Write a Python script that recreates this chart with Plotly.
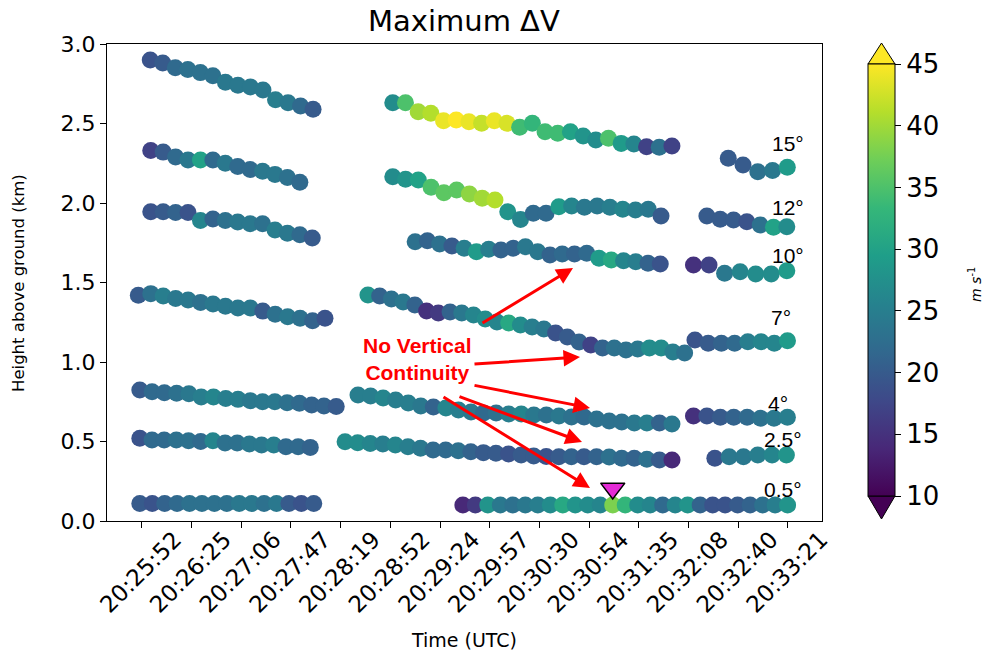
import plotly.graph_objects as go

# ---------------- data ----------------
tick_labels = ["20:25:52", "20:26:25", "20:27:06", "20:27:47", "20:28:19", "20:28:52",
               "20:29:24", "20:29:57", "20:30:30", "20:30:54", "20:31:35", "20:32:08",
               "20:32:40", "20:33:21"]

# 0.5 deg
h_05a = [0.11, 0.11, 0.11, 0.11, 0.11, 0.11, 0.11, 0.11, 0.11, 0.11, 0.11, 0.11, 0.11, 0.11, 0.11]
v_05a = [20, 19, 21, 22, 23, 23, 23, 23, 24, 24, 23, 24, 20, 19, 20]
h_05b = [0.10, 0.10, 0.10, 0.10, 0.10, 0.10, 0.10, 0.10, 0.10, 0.10, 0.10, 0.10, 0.10, 0.10,
         0.10, 0.10, 0.10, 0.10, 0.10, 0.10, 0.10, 0.10, 0.10, 0.10, 0.10, 0.10, 0.10]
v_05b = [14, 16, 28, 24, 23, 24, 25, 27, 31, 28, 27, 26, 38, 33, 27, 26, 22, 26, 28, 21,
         19, 19, 20, 21, 23, 25, 28]
# 2.5 deg
h_25a = [0.52, 0.51, 0.51, 0.51, 0.505, 0.50, 0.505, 0.49, 0.49, 0.485, 0.478, 0.478, 0.467, 0.467, 0.463]
v_25a = [19, 22, 22, 23, 23, 22, 26, 23, 23, 24, 24, 25, 22, 22, 21]
h_25b = [0.499, 0.492, 0.488, 0.484, 0.478, 0.467, 0.457, 0.447, 0.447, 0.442, 0.436, 0.430,
         0.426, 0.421, 0.415, 0.409, 0.406, 0.404, 0.404, 0.404, 0.404, 0.403, 0.394, 0.394,
         0.388, 0.384, 0.384]
v_25b = [27, 27, 26, 25, 26, 25, 24, 22, 22, 23, 21, 20, 20, 19, 20, 20, 19, 20, 21, 20,
         21, 23, 22, 21, 23, 20, 14]
h_25c = [0.394, 0.404, 0.404, 0.415, 0.415, 0.415]
v_25c = [19, 24, 24, 25, 26, 28]
# 4 deg
h_4a = [0.824, 0.813, 0.807, 0.803, 0.80, 0.78, 0.78, 0.77, 0.765, 0.757, 0.75, 0.75, 0.744,
        0.74, 0.73, 0.723, 0.72]
v_4a = [20, 22, 22, 23, 24, 25, 26, 25, 25, 24, 24, 24, 23, 22, 21, 21, 20]
h_4b = [0.792, 0.786, 0.774, 0.761, 0.742, 0.723, 0.717, 0.711, 0.698, 0.686, 0.679, 0.679,
        0.673, 0.673, 0.667, 0.667, 0.660, 0.654, 0.654, 0.642, 0.629, 0.623, 0.616, 0.616,
        0.616, 0.610]
v_4b = [25, 25, 26, 25, 25, 24, 21, 26, 25, 24, 22, 23, 25, 26, 24, 23, 24, 23, 22, 23,
        23, 23, 24, 25, 21, 24]
h_4c = [0.660, 0.660, 0.652, 0.652, 0.652, 0.646, 0.646, 0.652]
v_4c = [15, 19, 20, 21, 22, 23, 24, 25]
# 7 deg
h_7a = [1.42, 1.43, 1.415, 1.40, 1.39, 1.375, 1.365, 1.35, 1.34, 1.34, 1.32, 1.30, 1.285,
        1.275, 1.26, 1.275]
v_7a = [20, 23, 25, 24, 24, 23, 24, 24, 24, 24, 20, 23, 24, 23, 21, 19]
h_7b = [1.421, 1.415, 1.396, 1.377, 1.358, 1.321, 1.308, 1.314, 1.308, 1.296, 1.270, 1.252,
        1.245, 1.233, 1.220, 1.208, 1.182, 1.157, 1.126, 1.107, 1.088, 1.088, 1.075, 1.082,
        1.088, 1.088, 1.063, 1.057]
v_7b = [28, 21, 23, 24, 21, 15, 16, 21, 24, 26, 27, 26, 31, 27, 25, 24, 19, 20, 21, 17,
        21, 23, 23, 24, 27, 27, 25, 23]
h_7c = [1.138, 1.118, 1.118, 1.118, 1.128, 1.128, 1.118, 1.134]
v_7c = [19, 20, 21, 22, 25, 26, 26, 29]
# 10 deg
h_10a = [1.945, 1.945, 1.94, 1.94, 1.89, 1.90, 1.89, 1.88, 1.87, 1.87, 1.83, 1.81, 1.80, 1.78]
v_10a = [19, 20, 21, 19, 26, 21, 23, 24, 24, 23, 25, 24, 22, 20]
h_10b = [1.757, 1.763, 1.742, 1.730, 1.715, 1.694, 1.709, 1.704, 1.715, 1.725, 1.694, 1.673,
         1.679, 1.679, 1.684, 1.652, 1.642, 1.637, 1.631, 1.621, 1.616]
v_10b = [23, 21, 23, 20, 25, 29, 25, 21, 21, 24, 24, 21, 22, 21, 22, 29, 31, 26, 25, 21, 19]
h_10c = [1.610, 1.610, 1.558, 1.568, 1.553, 1.553, 1.574]
v_10c = [15, 17, 24, 26, 27, 27, 29]
# 12 deg
h_12a = [2.33, 2.32, 2.29, 2.27, 2.27, 2.27, 2.25, 2.23, 2.21, 2.20, 2.18, 2.16, 2.13]
v_12a = [17, 20, 22, 24, 30, 22, 24, 22, 22, 24, 24, 23, 22]
h_12b = [2.165, 2.149, 2.145, 2.099, 2.065, 2.082, 2.057, 2.030, 2.019, 1.945, 1.897, 1.935,
         1.935, 1.977, 1.981, 1.973, 1.981, 1.973, 1.960, 1.956, 1.960, 1.918]
v_12b = [27, 28, 30, 35, 36, 36, 39, 40, 41, 28, 26, 22, 22, 29, 26, 24, 24, 25, 26, 25, 24, 20]
h_12c = [1.918, 1.898, 1.893, 1.882, 1.862, 1.847, 1.851]
v_12c = [20, 20, 20, 19, 23, 30, 27]
# 15 deg
h_15a = [2.90, 2.88, 2.85, 2.84, 2.82, 2.80, 2.76, 2.74, 2.73, 2.71, 2.65, 2.63, 2.61, 2.59]
v_15a = [19, 20, 22, 23, 23, 23, 24, 24, 24, 24, 25, 24, 22, 20]
h_15b = [2.631, 2.631, 2.574, 2.564, 2.518, 2.522, 2.511, 2.501, 2.518, 2.501, 2.476, 2.501,
         2.448, 2.438, 2.448, 2.421, 2.396, 2.407, 2.375, 2.371, 2.354, 2.350, 2.358]
v_15b = [27, 35, 40, 41, 44, 45, 44, 42, 44, 43, 34, 33, 34, 34, 30, 28, 27, 35, 29, 26, 17, 23, 17]
h_15c = [2.281, 2.239, 2.197, 2.204, 2.225]
v_15c = [20, 20, 23, 24, 29]

elev_names = ["0.5°", "2.5°", "4°", "7°", "10°", "12°", "15°"]
# each segment: (first scan time in tick units, scan interval in tick units, heights, values)
segments = {
    "0.5°": [(-0.04, 0.25, h_05a, v_05a), (6.46, 0.2513, h_05b, v_05b)],
    "2.5°": [(-0.04, 0.245, h_25a, v_25a), (4.09, 0.253, h_25b, v_25b), (11.53, 0.288, h_25c, v_25c)],
    "4°": [(-0.04, 0.247, h_4a, v_4a), (4.35, 0.2527, h_4b, v_4b), (11.10, 0.270, h_4c, v_4c)],
    "7°": [(-0.07, 0.2504, h_7a, v_7a), (4.55, 0.236, h_7b, v_7b), (11.13, 0.266, h_7c, v_7c)],
    "10°": [(0.18, 0.25, h_10a, v_10a), (5.50, 0.2466, h_10b, v_10b), (11.10, 0.313, h_10c, v_10c)],
    "12°": [(0.18, 0.25, h_12a, v_12a), (5.05, 0.257, h_12b, v_12b), (11.37, 0.268, h_12c, v_12c)],
    "15°": [(0.17, 0.252, h_15a, v_15a), (5.05, 0.2553, h_15b, v_15b), (11.80, 0.297, h_15c, v_15c)],
}
label_x = [12.9, 12.9, 12.8, 12.86, 13.0, 13.0, 13.0]
label_y = [0.20, 0.51, 0.736, 1.277, 1.67, 1.97, 2.377]

arrows = [(6.825, 1.239, 8.676, 1.591),
          (6.664, 0.987, 8.817, 1.031),
          (6.664, 0.855, 9.018, 0.711),
          (6.362, 0.786, 8.857, 0.497),
          (6.040, 0.786, 9.018, 0.208)]

# ---------------- layout geometry ----------------
W, H = 984, 655
L, R, T, B = 107, 822, 44, 521
pw, ph = R - L, B - T


def px_x(p):  # image pixel -> paper
    return (p - L) / pw


def px_y(p):
    return (B - p) / ph


fig = go.Figure()
for name in elev_names:
    xs, ys, cs = [], [], []
    for (x0, dx, hh, vv) in segments[name]:
        for i, (h, v) in enumerate(zip(hh, vv)):
            xs.append(x0 + dx * i)
            ys.append(h)
            cs.append(v)
    fig.add_trace(go.Scatter(
        x=xs, y=ys, mode="markers", name=name, showlegend=False,
        marker=dict(size=17, color=cs, coloraxis="coloraxis", line=dict(width=0)),
        hoverinfo="skip"))

seg = segments["0.5°"][1]
imax = seg[3].index(max(seg[3]))
fig.add_trace(go.Scatter(
    x=[seg[0] + seg[1] * imax], y=[0.205], mode="markers", showlegend=False,
    marker=dict(symbol="triangle-down", size=21, color="#e42bd6",
                line=dict(color="black", width=1.5)), hoverinfo="skip"))

ann = []
for nm, lx, ly in zip(elev_names, label_x, label_y):
    ann.append(dict(x=lx, y=ly, xref="x", yref="y", text=nm, showarrow=False,
                    xanchor="center", yanchor="middle",
                    font=dict(family="Liberation Sans", size=21, color="black")))
for (tx, ty, hx, hy) in arrows:
    ann.append(dict(x=hx, y=hy, ax=tx, ay=ty, xref="x", yref="y", axref="x", ayref="y",
                    text="", showarrow=True, arrowhead=2, arrowsize=1.1, arrowwidth=3,
                    arrowcolor="#ff0000"))
ann.append(dict(x=5.55, y=1.02, xref="x", yref="y",
                text="<b>No Vertical<br>Continuity</b>", showarrow=False,
                xanchor="center", yanchor="middle",
                font=dict(family="Liberation Sans", size=21, color="#ff0000"), align="center"))
ann.append(dict(x=px_x(975), y=px_y(285), xref="paper", yref="paper",
                text="<i>m s</i><sup>-1</sup>", showarrow=False, textangle=-90,
                xanchor="center", yanchor="middle",
                font=dict(family="DejaVu Sans", size=14, color="black")))
ann.append(dict(x=px_x(18), y=px_y(283), xref="paper", yref="paper",
                text="Height above ground (km)", showarrow=False, textangle=-90,
                xanchor="center", yanchor="middle",
                font=dict(family="DejaVu Sans", size=16.5, color="black")))
ann.append(dict(x=px_x(464), y=px_y(640), xref="paper", yref="paper",
                text="Time (UTC)", showarrow=False, xanchor="center", yanchor="middle",
                font=dict(family="DejaVu Sans", size=19, color="black")))
ann.append(dict(x=px_x(464), y=px_y(21), xref="paper", yref="paper",
                text="Maximum ΔV", showarrow=False, xanchor="center", yanchor="middle",
                font=dict(family="DejaVu Sans", size=29, color="black")))

cb_x0, cb_x1, cb_top, cb_bot = 868, 895, 64, 496
cx = (cb_x0 + cb_x1) / 2
shapes = [
    dict(type="path", xref="paper", yref="paper",
         path=f"M {px_x(cb_x0)} {px_y(cb_top)} L {px_x(cb_x1)} {px_y(cb_top)} L {px_x(cx)} {px_y(43)} Z",
         fillcolor="#fde725", line=dict(color="black", width=1)),
    dict(type="path", xref="paper", yref="paper",
         path=f"M {px_x(cb_x0)} {px_y(cb_bot)} L {px_x(cb_x1)} {px_y(cb_bot)} L {px_x(cx)} {px_y(519)} Z",
         fillcolor="#440154", line=dict(color="black", width=1)),
]

axis_common = dict(showline=True, mirror=True, linecolor="black", linewidth=1,
                   ticks="outside", ticklen=6, tickwidth=1, tickcolor="black",
                   showgrid=False, zeroline=False, automargin=False)

fig.update_layout(
    width=W, height=H,
    margin=dict(l=L, r=W - R, t=T, b=H - B, pad=0, autoexpand=False),
    paper_bgcolor="white", plot_bgcolor="white",
    xaxis=dict(range=[(L - 141.8) / 49.7, (R - 141.8) / 49.7],
               tickvals=list(range(len(tick_labels))), ticktext=tick_labels, tickangle=-45,
               ticklabelshift=33, ticklabelstandoff=-11,
               tickfont=dict(family="DejaVu Sans", size=23, color="black"),
               **axis_common),
    yaxis=dict(range=[0, 3.0], tickvals=[0, 0.5, 1.0, 1.5, 2.0, 2.5, 3.0], tickformat=".1f",
               tickfont=dict(family="DejaVu Sans", size=22, color="black"),
               **axis_common),
    coloraxis=dict(colorscale="Viridis", cmin=10, cmax=45,
                   colorbar=dict(x=px_x(cb_x0), xanchor="left", xpad=0,
                                 y=px_y((cb_top + cb_bot) / 2), yanchor="middle", ypad=0,
                                 len=cb_bot - cb_top, lenmode="pixels",
                                 thickness=cb_x1 - cb_x0, thicknessmode="pixels",
                                 outlinecolor="black", outlinewidth=1,
                                 tickvals=[10, 15, 20, 25, 30, 35, 40, 45],
                                 ticks="outside", ticklen=6, tickcolor="black",
                                 tickfont=dict(family="DejaVu Sans", size=26, color="black"))),
    annotations=ann, shapes=shapes,
)

fig.write_html("out.html", config={"displayModeBar": False},
               post_script="document.body.style.margin='0';document.body.style.overflow='hidden';")
